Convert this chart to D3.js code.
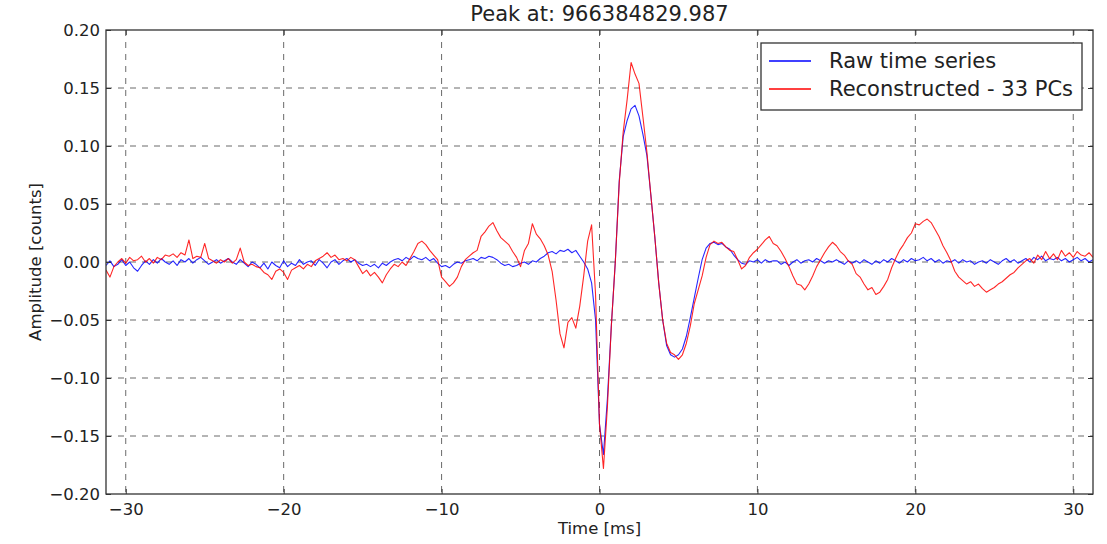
<!DOCTYPE html>
<html>
<head>
<meta charset="utf-8">
<script src="https://cdn.jsdelivr.net/npm/d3@7"></script>
<style>
  body { margin: 0; background: #fff; }
  text { font-family: "DejaVu Sans", sans-serif; fill: #222; }
</style>
</head>
<body>
<svg id="chart" width="1107" height="544"></svg>
<script>
const title = "Peak at: 966384829.987";
const xLabel = "Time [ms]";
const yLabel = "Amplitude [counts]";
const seriesNames = ["Raw time series", "Reconstructed - 33 PCs"];
const seriesColors = ["#0000ff", "#ff0000"];
const xTicks = [-30, -20, -10, 0, 10, 20, 30];
const yTicks = [-0.2, -0.15, -0.1, -0.05, 0, 0.05, 0.1, 0.15, 0.2];

// samples every 0.25 ms starting at -31.25 ms, values in 1e-3 counts
const tStart = -31.25;
const tStep = 0.25;
const rawSeries = [
  -3, 1, -4, -2, 2, -3, 0, -5,
  -8, -3, 1, -2, 2, -1, 3, 0,
  -2, 1, -3, 2, 0, 3, -1, 2,
  4, 1, -2, 0, 2, -1, 1, 3,
  0, -2, 2, -1, -4, 0, -2, -5,
  -1, -6, 0, -3, -5, 1, -4, -1,
  -3, 2, -2, 0, 1, -3, 2, -1,
  -5, 0, 2, -2, 1, 3, 0, 2,
  -1, -3, -2, -4, -2, -5, -1, -3,
  0, 2, 3, 1, 4, 2, 5, 3,
  2, 4, 1, 3, -1, -4, -3, -5,
  -2, 0, -1, 1, 2, 3, 1, 4,
  3, 5, 4, 2, -1, -3, -2, -4,
  -3, -1, 0, -2, 1, 0, 3, 5,
  8, 9, 7, 10, 9, 11, 8, 10,
  5, 0, -6, -18, -50, -140, -166, -118,
  -55, 0, 70, 108, 122, 132, 135, 126,
  110, 92, 58, 22, -18, -50, -72, -80,
  -82, -80, -75, -64, -48, -31, -14, 2,
  12, 16, 17, 15, 16, 13, 11, 6,
  2, -1, -2, 1, 0, 2, -1, 2,
  0, 1, 1, -2, 0, -3, 0, 2,
  -1, 1, 2, 0, 3, 1, -1, 1,
  0, 2, 0, -2, 1, -1, 1, -1,
  2, 0, -2, 1, -1, 2, 0, 3,
  1, -1, 2, 0, 3, 1, 2, 4,
  1, 3, 0, 2, -1, 1, 0, 2,
  -1, 2, 0, 1, -2, 0, 1, -1,
  2, 0, -2, 1, 3, 0, 2, -1,
  1, 3, 0, 4, 2, 5, 1, 3,
  2, 4, 1, 3, 0, 2, 4, 1,
  3, 0, 2
];
const reconSeries = [
  -7, -13, -4, 0, 3, -1, 4, 1,
  2, 5, 0, 3, -1, 4, 2, 6,
  5, 7, 4, 8, 6, 19, 3, 5,
  4, 16, 3, 1, -1, 2, 0, 3,
  -1, 2, 12, 0, -3, -2, -4, -5,
  -9, -11, -15, -8, -6, -9, -15, -7,
  -5, -3, -6, -2, -4, 1, 3, 5,
  8, 4, 6, 2, 3, 1, 4, 2,
  -4, -10, -7, -12, -9, -13, -18, -11,
  -6, -2, -4, 0, -3, 3, 9, 16,
  18, 15, 10, 6, 2, -13, -17, -21,
  -18, -13, -4, 2, 5, 8, 10, 22,
  26, 31, 34, 27, 21, 18, 15, 9,
  4, -4, 10, 16, 33, 24, 20, 14,
  6, -8, -33, -62, -74, -52, -48, -57,
  -38, -12, 18, 32, -28, -140, -178, -125,
  -55, 0, 68, 112, 140, 172, 162, 154,
  125, 95, 58, 22, -18, -50, -70, -78,
  -80, -84, -80, -70, -55, -36, -24, -12,
  4, 15, 18, 16, 17, 13, 10, 9,
  2, -6, -3, 4, 8, 11, 15, 19,
  22, 16, 14, 9, 3, -4, -12, -19,
  -20, -24, -19, -12, -4, 2, 8, 13,
  17, 14, 9, 6, 1, -2, -10, -13,
  -19, -24, -22, -28, -26, -21, -15, -5,
  3, 10, 15, 21, 25, 33, 32, 35,
  37, 34, 28, 22, 14, 8, 1, -8,
  -13, -16, -19, -17, -21, -19, -23, -26,
  -24, -22, -19, -17, -14, -11, -9, -5,
  -2, 1, 3, -1, 6, 2, 9, 3,
  7, 2, 10, 5, 8, 4, 9, 6,
  5, 8, 4
];

const plot = { left: 106, top: 30, right: 1093, bottom: 494 };

const toPoints = (vals) =>
  vals.map((v, i) => ({ t: tStart + i * tStep, v: v / 1000 }));

const svg = d3.select("#chart");

const x = d3.scaleLinear().domain([-31.25, 31.25]).range([plot.left, plot.right]);
const y = d3.scaleLinear().domain([-0.2, 0.2]).range([plot.bottom, plot.top]);
const fmtY = d3.format(".2f");
const fmtX = d3.format("d");

svg.append("defs").append("clipPath").attr("id", "clip")
  .append("rect")
  .attr("x", plot.left).attr("y", plot.top)
  .attr("width", plot.right - plot.left).attr("height", plot.bottom - plot.top);

// grid
const grid = svg.append("g").attr("stroke", "#6a6a6a").attr("stroke-width", 1)
  .attr("stroke-dasharray", "6,6");
grid.selectAll(".gx").data(xTicks).join("line")
  .attr("x1", (d) => x(d)).attr("x2", (d) => x(d))
  .attr("y1", plot.top).attr("y2", plot.bottom);
grid.selectAll(".gy").data(yTicks.slice(1, -1)).join("line")
  .attr("y1", (d) => y(d)).attr("y2", (d) => y(d))
  .attr("x1", plot.left).attr("x2", plot.right);

// series
const line = d3.line().x((d) => x(d.t)).y((d) => y(d.v));
const lines = svg.append("g").attr("clip-path", "url(#clip)");
[rawSeries, reconSeries].forEach((vals, k) => {
  lines.append("path")
    .datum(toPoints(vals))
    .attr("fill", "none")
    .attr("stroke", seriesColors[k])
    .attr("stroke-width", 1.1)
    .attr("stroke-opacity", 0.85)
    .attr("stroke-linejoin", "round")
    .attr("d", line);
});

// axes, ticks pointing inward on all sides
const styleAxis = (g) => {
  g.select(".domain").remove();
  g.selectAll(".tick line").attr("stroke", "#333");
  g.selectAll(".tick text").attr("fill", "#222")
    .style("font-family", "DejaVu Sans, sans-serif").style("font-size", "16.5px");
};
svg.append("g").attr("transform", `translate(0,${plot.bottom})`)
  .call(d3.axisBottom(x).tickValues(xTicks).tickFormat(fmtX).tickSize(-5).tickPadding(9))
  .call(styleAxis);
svg.append("g").attr("transform", `translate(0,${plot.top})`)
  .call(d3.axisTop(x).tickValues(xTicks).tickFormat("").tickSize(-5))
  .call(styleAxis);
svg.append("g").attr("transform", `translate(${plot.left},0)`)
  .call(d3.axisLeft(y).tickValues(yTicks).tickFormat(fmtY).tickSize(-5).tickPadding(6))
  .call(styleAxis);
svg.append("g").attr("transform", `translate(${plot.right},0)`)
  .call(d3.axisRight(y).tickValues(yTicks).tickFormat("").tickSize(-5))
  .call(styleAxis);

svg.append("rect")
  .attr("x", plot.left).attr("y", plot.top)
  .attr("width", plot.right - plot.left).attr("height", plot.bottom - plot.top)
  .attr("fill", "none").attr("stroke", "#333").attr("stroke-width", 1.3);

// labels
svg.append("text").attr("x", (plot.left + plot.right) / 2).attr("y", 21)
  .attr("text-anchor", "middle").style("font-size", "21px").text(title);
svg.append("text").attr("x", (plot.left + plot.right) / 2).attr("y", 534)
  .attr("text-anchor", "middle").style("font-size", "16.5px").text(xLabel);
svg.append("text")
  .attr("transform", `translate(41,${(plot.top + plot.bottom) / 2}) rotate(-90)`)
  .attr("text-anchor", "middle").style("font-size", "16.5px").text(yLabel);

// legend
const legend = svg.append("g").attr("transform", "translate(761,43)");
legend.append("rect").attr("width", 321).attr("height", 67)
  .attr("fill", "#fff").attr("stroke", "#333").attr("stroke-width", 1.3);
const rows = legend.selectAll(".row").data(seriesNames).join("g")
  .attr("transform", (_, i) => `translate(0,${18 + i * 28})`);
rows.append("line").attr("x1", 8).attr("x2", 50)
  .attr("stroke", (_, i) => seriesColors[i]).attr("stroke-width", 1.3);
rows.append("text").attr("x", 68).attr("dy", "0.35em")
  .style("font-size", "21px").text((d) => d);
</script>
</body>
</html>
